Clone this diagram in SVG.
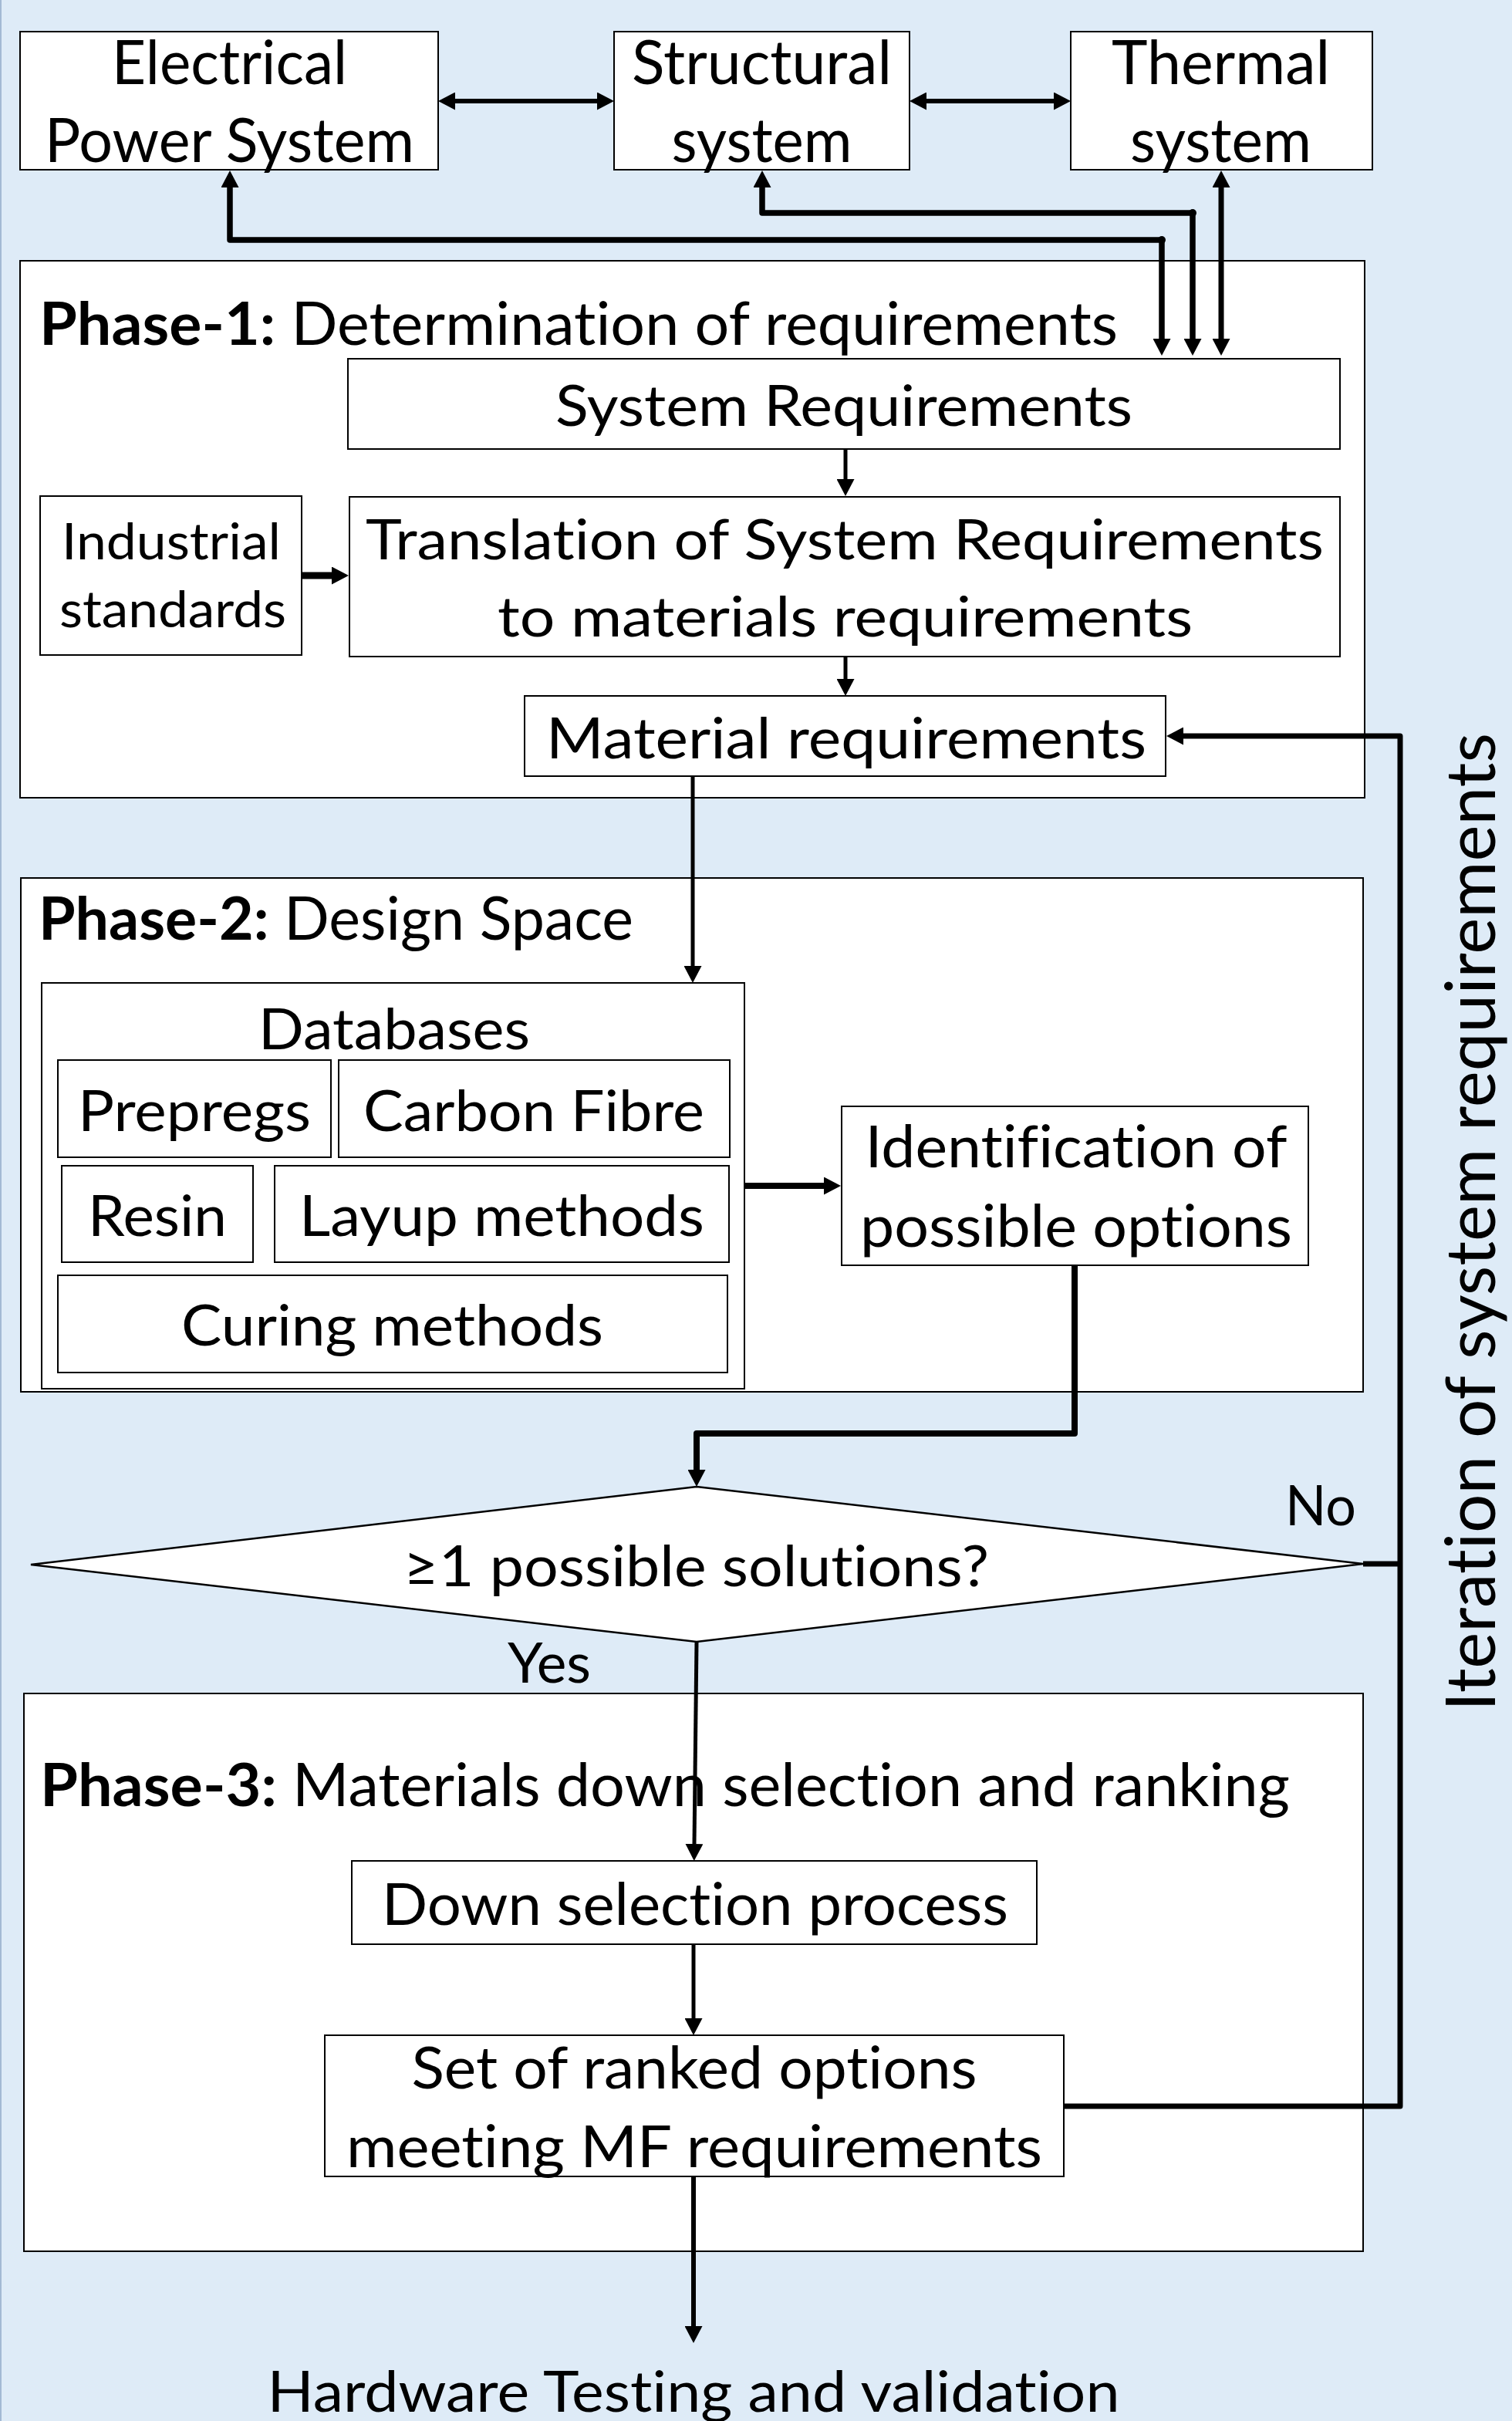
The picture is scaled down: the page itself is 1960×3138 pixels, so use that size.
<svg xmlns="http://www.w3.org/2000/svg" width="1960" height="3138" viewBox="0 0 1960 3138">
<style>
.bg{fill:#DEEBF7}
.box{fill:#fff;stroke:#000;stroke-width:2}
.t{font-family:Lato,"Liberation Sans",sans-serif;fill:#000;font-variant-ligatures:none}
.c{fill:none;stroke:#000;stroke-linejoin:round}
</style>
<defs>
<marker id="ah" viewBox="0 0 22 23" refX="0" refY="11.5" markerWidth="22" markerHeight="23" markerUnits="userSpaceOnUse" orient="auto-start-reverse">
<path d="M0,0 L22,11.5 L0,23 z" fill="#000"/>
</marker>
</defs>
<rect class="bg" x="0" y="0" width="1960" height="3138"/>
<rect x="0" y="0" width="2" height="3138" fill="#A3BAD4"/>

<!-- phase containers -->
<g id="phase1">
<rect class="box" x="26" y="338" width="1743" height="696"/>
<text class="t" x="51" y="447" font-size="77" textLength="1398" lengthAdjust="spacingAndGlyphs"><tspan font-weight="bold">Phase-1:</tspan> Determination of requirements</text>
</g>
<g id="phase2">
<rect class="box" x="27" y="1138" width="1740" height="666"/>
<text class="t" x="50" y="1218" font-size="77" textLength="771" lengthAdjust="spacingAndGlyphs"><tspan font-weight="bold">Phase-2:</tspan> Design Space</text>
</g>
<g id="phase3">
<rect class="box" x="31" y="2195" width="1736" height="723"/>
<text class="t" x="52" y="2341" font-size="77" textLength="1620" lengthAdjust="spacingAndGlyphs"><tspan font-weight="bold">Phase-3:</tspan> Materials down selection and ranking</text>
</g>

<!-- top nodes -->
<g id="electrical">
<rect class="box" x="26" y="41" width="542" height="179"/>
<text class="t" x="297.5" y="109" font-size="80" text-anchor="middle" textLength="305" lengthAdjust="spacingAndGlyphs">Electrical</text>
<text class="t" x="297.5" y="210" font-size="80" text-anchor="middle" textLength="479" lengthAdjust="spacingAndGlyphs">Power System</text>
</g>
<g id="structural">
<rect class="box" x="796" y="41" width="383" height="179"/>
<text class="t" x="987.5" y="109" font-size="80" text-anchor="middle" textLength="337" lengthAdjust="spacingAndGlyphs">Structural</text>
<text class="t" x="987.5" y="210" font-size="80" text-anchor="middle" textLength="234" lengthAdjust="spacingAndGlyphs">system</text>
</g>
<g id="thermal">
<rect class="box" x="1388" y="41" width="391" height="179"/>
<text class="t" x="1582.5" y="109" font-size="80" text-anchor="middle" textLength="283" lengthAdjust="spacingAndGlyphs">Thermal</text>
<text class="t" x="1582.5" y="210" font-size="80" text-anchor="middle" textLength="235" lengthAdjust="spacingAndGlyphs">system</text>
</g>

<!-- phase 1 nodes -->
<g id="system-requirements">
<rect class="box" x="451" y="465" width="1286" height="117"/>
<text class="t" x="1094" y="552" font-size="74" text-anchor="middle" textLength="748" lengthAdjust="spacingAndGlyphs">System Requirements</text>
</g>
<g id="industrial-standards">
<rect class="box" x="52" y="643" width="339" height="206"/>
<text class="t" x="222" y="725" font-size="66" text-anchor="middle" textLength="284" lengthAdjust="spacingAndGlyphs">Industrial</text>
<text class="t" x="224" y="813" font-size="66" text-anchor="middle" textLength="294" lengthAdjust="spacingAndGlyphs">standards</text>
</g>
<g id="translation">
<rect class="box" x="453" y="644" width="1284" height="207"/>
<text class="t" x="1095" y="725" font-size="72" text-anchor="middle" textLength="1242" lengthAdjust="spacingAndGlyphs">Translation of System Requirements</text>
<text class="t" x="1095.5" y="825" font-size="72" text-anchor="middle" textLength="901" lengthAdjust="spacingAndGlyphs">to materials requirements</text>
</g>
<g id="material-requirements">
<rect class="box" x="680" y="902" width="831" height="104"/>
<text class="t" x="1097" y="983" font-size="74" text-anchor="middle" textLength="778" lengthAdjust="spacingAndGlyphs">Material requirements</text>
</g>

<!-- phase 2 nodes -->
<g id="databases">
<rect class="box" x="54" y="1274" width="911" height="526"/>
<text class="t" x="511" y="1360" font-size="74" text-anchor="middle" textLength="352" lengthAdjust="spacingAndGlyphs">Databases</text>
</g>
<g id="prepregs">
<rect class="box" x="75" y="1374" width="354" height="126"/>
<text class="t" x="252" y="1466" font-size="74" text-anchor="middle" textLength="302" lengthAdjust="spacingAndGlyphs">Prepregs</text>
</g>
<g id="carbon-fibre">
<rect class="box" x="439" y="1374" width="507" height="126"/>
<text class="t" x="692" y="1466" font-size="74" text-anchor="middle" textLength="442" lengthAdjust="spacingAndGlyphs">Carbon Fibre</text>
</g>
<g id="resin">
<rect class="box" x="80" y="1511" width="248" height="125"/>
<text class="t" x="204" y="1602" font-size="74" text-anchor="middle" textLength="180" lengthAdjust="spacingAndGlyphs">Resin</text>
</g>
<g id="layup-methods">
<rect class="box" x="356" y="1511" width="589" height="125"/>
<text class="t" x="650.5" y="1602" font-size="74" text-anchor="middle" textLength="525" lengthAdjust="spacingAndGlyphs">Layup methods</text>
</g>
<g id="curing-methods">
<rect class="box" x="75" y="1653" width="868" height="126"/>
<text class="t" x="508.5" y="1744" font-size="74" text-anchor="middle" textLength="547" lengthAdjust="spacingAndGlyphs">Curing methods</text>
</g>
<g id="identification">
<rect class="box" x="1091" y="1434" width="605" height="206"/>
<text class="t" x="1395" y="1513" font-size="75" text-anchor="middle" textLength="547" lengthAdjust="spacingAndGlyphs">Identification of</text>
<text class="t" x="1395" y="1616" font-size="75" text-anchor="middle" textLength="560" lengthAdjust="spacingAndGlyphs">possible options</text>
</g>

<!-- decision -->
<g id="decision">
<polygon points="40,2028 903,1927 1767,2027 903,2128" fill="#fff" stroke="#000" stroke-width="2.5"/>
<text class="t" x="902.5" y="2056" font-size="74" text-anchor="middle" textLength="759" lengthAdjust="spacingAndGlyphs">≥1 possible solutions?</text>
</g>

<!-- phase 3 nodes -->
<g id="down-selection">
<rect class="box" x="456" y="2412" width="888" height="108"/>
<text class="t" x="901" y="2495" font-size="75" text-anchor="middle" textLength="812" lengthAdjust="spacingAndGlyphs">Down selection process</text>
</g>
<g id="ranked-options">
<rect class="box" x="421" y="2638" width="958" height="183"/>
<text class="t" x="900" y="2707" font-size="75" text-anchor="middle" textLength="733" lengthAdjust="spacingAndGlyphs">Set of ranked options</text>
<text class="t" x="900" y="2809" font-size="75" text-anchor="middle" textLength="902" lengthAdjust="spacingAndGlyphs">meeting MF requirements</text>
</g>
<g id="hardware-testing">
<text class="t" x="899" y="3126" font-size="74" text-anchor="middle" textLength="1105" lengthAdjust="spacingAndGlyphs">Hardware Testing and validation</text>
</g>

<!-- connectors -->
<g id="connectors">
<path class="c" d="M590,131 H774" stroke-width="6" marker-start="url(#ah)" marker-end="url(#ah)"/>
<path class="c" d="M1201,131 H1366" stroke-width="6" marker-start="url(#ah)" marker-end="url(#ah)"/>
<path class="c" d="M298,243 V311 H1506 V439" stroke-width="7.5" marker-start="url(#ah)" marker-end="url(#ah)"/>
<path class="c" d="M988,243 V276 H1546 V439" stroke-width="7.5" marker-start="url(#ah)" marker-end="url(#ah)"/>
<circle cx="1506" cy="311" r="5"/>
<circle cx="1546" cy="276" r="5"/>
<path class="c" d="M1583,243 V439" stroke-width="7" marker-start="url(#ah)" marker-end="url(#ah)"/>
<path class="c" d="M1096,582 V621" stroke-width="5" marker-end="url(#ah)"/>
<path class="c" d="M1096,851 V880" stroke-width="5" marker-end="url(#ah)"/>
<path class="c" d="M391,746 H430" stroke-width="9" marker-end="url(#ah)"/>
<path class="c" d="M898,1006 V1252" stroke-width="5" marker-end="url(#ah)"/>
<path class="c" d="M965,1537 H1068" stroke-width="8" marker-end="url(#ah)"/>
<path class="c" d="M1393,1640 V1858 H903 V1905" stroke-width="8" marker-end="url(#ah)"/>
<path class="c" d="M903,2128 L900,2390" stroke-width="5" marker-end="url(#ah)"/>
<path class="c" d="M899,2520 V2616" stroke-width="5" marker-end="url(#ah)"/>
<path class="c" d="M899,2821 V3015" stroke-width="6" marker-end="url(#ah)"/>
<path class="c" d="M1379,2730 H1815 V954 H1534" stroke-width="7" marker-end="url(#ah)"/>
<path class="c" d="M1767,2027 H1815" stroke-width="7"/>
<text class="t" x="1666" y="1977" font-size="72" textLength="92" lengthAdjust="spacingAndGlyphs">No</text>
<text class="t" x="658" y="2181" font-size="72" textLength="108" lengthAdjust="spacingAndGlyphs">Yes</text>
<text class="t" x="1938" y="2218" font-size="90" transform="rotate(-90 1938 2218)" textLength="1268" lengthAdjust="spacingAndGlyphs">Iteration of system requirements</text>
</g>
</svg>
